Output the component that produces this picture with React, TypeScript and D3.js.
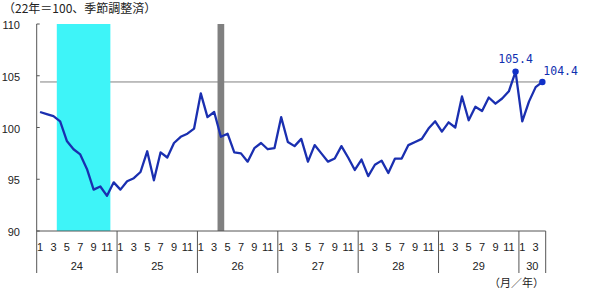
import React from 'react';
import * as d3 from 'd3';

const years = ['24', '25', '26', '27', '28', '29', '30'];
const monthsPerYear = [12, 12, 12, 12, 12, 12, 4];
const monthTickLabels = ['1', '3', '5', '7', '9', '11'];
const yTicks = [90, 95, 100, 105, 110];
const values = [
  101.5, 101.3, 101.1, 100.6, 98.7, 97.9, 97.4, 96.0, 94.0, 94.3, 93.4, 94.7,
  94.0, 94.8, 95.1, 95.7, 97.7, 94.9, 97.6, 97.1, 98.5, 99.1, 99.4, 99.9,
  103.3, 101.0, 101.5, 99.1, 99.4, 97.6, 97.5, 96.7, 98.0, 98.5, 97.9, 98.0,
  101.0, 98.6, 98.2, 98.9, 96.7, 98.3, 97.5, 96.7, 97.0, 98.2, 97.1, 95.9,
  96.9, 95.3, 96.4, 96.8, 95.6, 97.0, 97.0, 98.3, 98.6, 98.9, 99.9, 100.6,
  99.6, 100.5, 100.0, 103.0, 100.7, 102.0, 101.6, 102.9, 102.3, 102.8, 103.5, 105.4,
  100.6, 102.5, 103.9, 104.4,
];
const cyanBand = [3, 10]; // Apr-Nov 24
const grayBand = [27, 27]; // Apr 26
const highlights = [71, 75];
const refValue = 104.4;
const title = '（22年＝100、季節調整済）';
const axisUnit = '（月／年）';

export default function App() {
  const W = 600, H = 291;
  const left = 36.7, right = 545.7, top = 24, bottom = 231;
  const idx = values.map((_, i) => i);
  const x = d3.scaleBand<number>().domain(idx).range([left, right]).padding(0);
  const bw = x.bandwidth();
  const cx = (i: number) => (x(i) as number) + bw / 2;
  const y = d3.scaleLinear().domain([90, 110]).range([bottom, top]);
  const line = d3.line<number>().x((_, i) => cx(i)).y(d => y(d));

  const blue = '#1a2fb0';
  const num = "'Liberation Sans', Arial, sans-serif";
  const jp = "'Noto Sans CJK JP', sans-serif";

  const starts: number[] = [];
  let acc = 0;
  monthsPerYear.forEach(m => { starts.push(acc); acc += m; });

  return (
    <svg width={W} height={H} style={{ position: 'absolute', left: 0, top: 0, background: '#fff' }}>
      <rect x={0} y={0} width={W} height={H} fill="#fff" />
      <text x={3} y={13} fontSize={12} fontFamily={jp} fill="#222">{title}</text>

      {/* reference line */}
      <line x1={cx(0)} x2={cx(values.length - 1)} y1={y(refValue)} y2={y(refValue)} stroke="#808080" strokeWidth={1} />

      {/* bands */}
      <rect x={x(cyanBand[0]) as number} width={(x(cyanBand[1]) as number) + bw - (x(cyanBand[0]) as number)}
        y={top} height={bottom - top} fill="#3ef4f8" />
      <rect x={x(grayBand[0]) as number} width={(x(grayBand[1]) as number) + bw - (x(grayBand[0]) as number)}
        y={top} height={bottom - top} fill="#808080" />

      {/* y axis */}
      <line x1={left} x2={left} y1={top} y2={bottom} stroke="#555" strokeWidth={1} />
      {yTicks.map(t => (
        <g key={t}>
          <line x1={left} x2={left + 3} y1={y(t)} y2={y(t)} stroke="#555" />
          <text x={20} y={y(t) + 5} textAnchor="end" fontSize={11} fontFamily={num} fill="#222">{t}</text>
        </g>
      ))}

      {/* x axis */}
      <line x1={left} x2={right} y1={bottom} y2={bottom} stroke="#555" strokeWidth={1} />
      {starts.map((s, k) => (
        <line key={'s' + k} x1={x(s) as number} x2={x(s) as number} y1={bottom} y2={273} stroke="#555" />
      ))}
      <line x1={right} x2={right} y1={bottom} y2={273} stroke="#555" />
      {years.map((yr, k) => {
        const s = starts[k];
        const m = monthsPerYear[k];
        const labels = monthTickLabels.filter(l => +l <= m);
        const midX = ((x(s) as number) + (x(s + m - 1) as number) + bw) / 2;
        return (
          <g key={yr}>
            {labels.map(l => (
              <text key={l} x={cx(s + +l - 1)} y={250.5} textAnchor="middle" fontSize={11} fontFamily={num} fill="#222">{l}</text>
            ))}
            <text x={midX} y={270} textAnchor="middle" fontSize={11} fontFamily={num} fill="#222">{yr}</text>
          </g>
        );
      })}
      <text x={489} y={287} fontSize={11} fontFamily={jp} fill="#222">{axisUnit}</text>

      {/* data line */}
      <path d={line(values) || ''} fill="none" stroke={blue} strokeWidth={2.3} strokeLinejoin="round" />
      {highlights.map(i => (
        <circle key={i} cx={cx(i)} cy={y(values[i])} r={3.2} fill="#1030c8" />
      ))}
      <text x={cx(highlights[0])} y={y(values[highlights[0]]) - 9} textAnchor="middle" fontSize={11.5} fontFamily="'DejaVu Sans Mono', monospace" fill="#1030b0">{values[highlights[0]].toFixed(1)}</text>
      <text x={cx(highlights[1]) + 1} y={y(values[highlights[1]]) - 7} textAnchor="start" fontSize={11.5} fontFamily="'DejaVu Sans Mono', monospace" fill="#1030b0">{values[highlights[1]].toFixed(1)}</text>
    </svg>
  );
}
